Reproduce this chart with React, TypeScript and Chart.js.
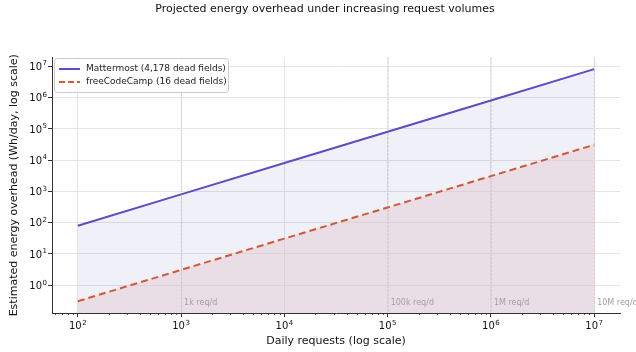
import React, { useEffect, useRef } from "react";
import { Chart, registerables } from "chart.js";

Chart.register(...registerables);

const requests = [1e2, 1e3, 1e4, 1e5, 1e6, 1e7];
const mattermostWh = [80, 800, 8000, 80000, 800000, 8000000];
const freeCodeCampWh = [0.31, 3.1, 31, 306, 3060, 30600];
const seriesLabels = ["Mattermost (4,178 dead fields)", "freeCodeCamp (16 dead fields)"];
const markerValues = [1e3, 1e5, 1e6, 1e7];
const markerLabels = ["1k req/d", "100k req/d", "1M req/d", "10M req/d"];
const xTickExps = [2, 3, 4, 5, 6, 7];
const yTickExps = [0, 1, 2, 3, 4, 5, 6, 7];

const TITLE = "Projected energy overhead under increasing request volumes";
const X_TITLE = "Daily requests (log scale)";
const Y_TITLE = "Estimated energy overhead (Wh/day, log scale)";

const PURPLE = "#5a4ec2";
const ORANGE = "#e0592b";
const FONT = "'DejaVu Sans', sans-serif";

// draws "10" with a raised exponent; align: 'center' or 'right'
function drawPow(ctx: any, exp: number, x: number, baseline: number, align: string) {
  const base = "10";
  const sup = String(exp);
  ctx.font = `10px ${FONT}`;
  const wb = ctx.measureText(base).width;
  ctx.font = `7px ${FONT}`;
  const ws = ctx.measureText(sup).width;
  const total = wb + ws + 0.5;
  const left = align === "center" ? x - total / 2 : x - total;
  ctx.textAlign = "left";
  ctx.textBaseline = "alphabetic";
  ctx.font = `10px ${FONT}`;
  ctx.fillText(base, left, baseline);
  ctx.font = `7px ${FONT}`;
  ctx.fillText(sup, left + wb + 0.5, baseline - 4.5);
}

const overlayPlugin = {
  id: "overlay",
  afterDatasetsDraw(chart: any) {
    const { ctx, chartArea, scales } = chart;
    const xs = scales.x;
    ctx.save();
    // vertical reference lines
    ctx.strokeStyle = "rgba(160,160,170,0.38)";
    ctx.lineWidth = 1;
    ctx.setLineDash([2, 2]);
    markerValues.forEach((v) => {
      const px = Math.round(xs.getPixelForValue(v)) + 0.5;
      ctx.beginPath();
      ctx.moveTo(px, chartArea.top);
      ctx.lineTo(px, chartArea.bottom);
      ctx.stroke();
    });
    ctx.setLineDash([]);
    ctx.fillStyle = "#a0a0a0";
    ctx.font = `8px ${FONT}`;
    ctx.textBaseline = "middle";
    ctx.textAlign = "left";
    markerValues.forEach((v, i) => {
      const px = xs.getPixelForValue(v);
      ctx.fillText(markerLabels[i], px + 3, chartArea.bottom - 10);
    });
    // legend
    const lx = 54, ly = 58, lw = 174, lh = 34;
    ctx.fillStyle = "rgba(255,255,255,0.85)";
    ctx.strokeStyle = "#cccccc";
    ctx.lineWidth = 1;
    ctx.beginPath();
    (ctx as any).roundRect(lx + 0.5, ly + 0.5, lw, lh, 3);
    ctx.fill();
    ctx.stroke();
    const rows = [
      { y: ly + 11, color: PURPLE, dash: [] as number[] },
      { y: ly + 24, color: ORANGE, dash: [6, 3] },
    ];
    rows.forEach((r, i) => {
      ctx.strokeStyle = r.color;
      ctx.lineWidth = 2;
      ctx.setLineDash(r.dash);
      ctx.beginPath();
      ctx.moveTo(59, r.y);
      ctx.lineTo(80, r.y);
      ctx.stroke();
      ctx.setLineDash([]);
      ctx.fillStyle = "#222";
      ctx.font = `9px ${FONT}`;
      ctx.textAlign = "left";
      ctx.textBaseline = "middle";
      ctx.fillText(seriesLabels[i], 86, r.y);
    });
    ctx.restore();
  },
  afterDraw(chart: any) {
    const { ctx, chartArea, scales } = chart;
    const xs = scales.x;
    const ys = scales.y;
    ctx.save();
    // minor ticks on x
    ctx.strokeStyle = "#333";
    ctx.lineWidth = 0.8;
    for (let e = 1; e <= 7; e++) {
      for (let k = 2; k <= 9; k++) {
        const v = k * Math.pow(10, e);
        if (v < xs.min || v > xs.max) continue;
        const px = Math.round(xs.getPixelForValue(v)) + 0.5;
        ctx.beginPath();
        ctx.moveTo(px, chartArea.bottom);
        ctx.lineTo(px, chartArea.bottom + 2);
        ctx.stroke();
      }
    }
    // tick labels
    ctx.fillStyle = "#111";
    xTickExps.forEach((e) => {
      drawPow(ctx, e, xs.getPixelForValue(Math.pow(10, e)), chartArea.bottom + 16, "center");
    });
    yTickExps.forEach((e) => {
      drawPow(ctx, e, chartArea.left - 5, ys.getPixelForValue(Math.pow(10, e)) + 3.8, "right");
    });
    // titles
    ctx.fillStyle = "#111";
    ctx.textAlign = "center";
    ctx.textBaseline = "middle";
    ctx.font = `11px ${FONT}`;
    ctx.fillText(TITLE, 325, 9);
    ctx.font = `11px ${FONT}`;
    ctx.fillText(X_TITLE, (chartArea.left + chartArea.right) / 2, 341);
    ctx.translate(14, (chartArea.top + chartArea.bottom) / 2);
    ctx.rotate(-Math.PI / 2);
    ctx.fillText(Y_TITLE, 0, 0);
    ctx.restore();
  },
};

export default function App() {
  const ref = useRef<HTMLCanvasElement | null>(null);
  useEffect(() => {
    if (!ref.current) return;
    const chart = new Chart(ref.current, {
      type: "line",
      data: {
        datasets: [
          {
            label: seriesLabels[0],
            data: requests.map((x, i) => ({ x, y: mattermostWh[i] })),
            borderColor: PURPLE,
            borderWidth: 2,
            pointRadius: 0,
            tension: 0,
            fill: "start",
            backgroundColor: "rgba(60,70,160,0.075)",
          },
          {
            label: seriesLabels[1],
            data: requests.map((x, i) => ({ x, y: freeCodeCampWh[i] })),
            borderColor: ORANGE,
            borderWidth: 2,
            borderDash: [7, 4],
            pointRadius: 0,
            tension: 0,
            fill: "start",
            backgroundColor: "rgba(242,215,217,0.5)",
          },
        ],
      },
      options: {
        animation: false,
        responsive: true,
        maintainAspectRatio: false,
        layout: { padding: { top: 57.5, right: 16, left: 0, bottom: 0 } },
        plugins: { legend: { display: false }, title: { display: false }, tooltip: { enabled: false } },
        scales: {
          x: {
            type: "logarithmic",
            min: Math.pow(10, 1.75),
            max: Math.pow(10, 7.25),
            afterBuildTicks: (s: any) => {
              s.ticks = xTickExps.map((e) => ({ value: Math.pow(10, e) }));
            },
            afterFit: (s: any) => {
              s.height = 39;
            },
            ticks: { display: false, autoSkip: false, maxRotation: 0 },
            grid: { color: "#e4e4e4", tickColor: "#333", tickLength: 4, lineWidth: 1 },
            border: { display: true, color: "#333", width: 1 },
          },
          y: {
            type: "logarithmic",
            min: Math.pow(10, -0.885),
            max: Math.pow(10, 7.274),
            afterBuildTicks: (s: any) => {
              s.ticks = yTickExps.map((e) => ({ value: Math.pow(10, e) }));
            },
            afterFit: (s: any) => {
              s.width = 52;
            },
            ticks: { display: false, autoSkip: false },
            grid: { color: "#e4e4e4", tickColor: "#333", tickLength: 4, lineWidth: 1 },
            border: { display: true, color: "#333", width: 1 },
          },
        },
      },
      plugins: [overlayPlugin],
    } as any);
    return () => chart.destroy();
  }, []);
  return (
    <div style={{ position: "fixed", left: 0, top: 0, width: 636, height: 352, background: "#fff" }}>
      <canvas ref={ref} />
    </div>
  );
}
